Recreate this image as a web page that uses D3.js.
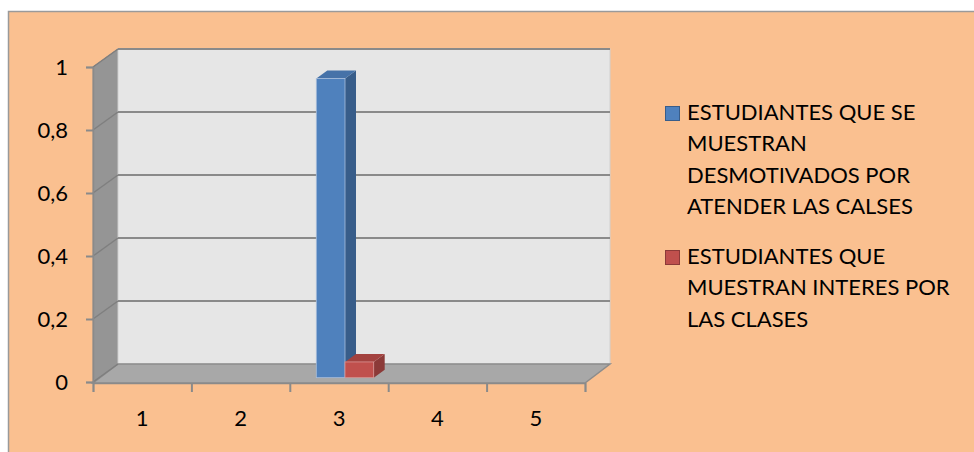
<!DOCTYPE html>
<html>
<head>
<meta charset="utf-8">
<script src="https://cdn.jsdelivr.net/npm/d3@7"></script>
<style>
  body { margin: 0; background: #fff; }
  svg { display: block; }
  .axis text { font-family: Lato, "Open Sans", sans-serif; font-size: 22px; fill: #000; }
</style>
</head>
<body>
<svg id="chart"></svg>
<script>
// data
var categories = ["1", "2", "3", "4", "5"];
var seriesNames = ["ESTUDIANTES QUE SE MUESTRAN DESMOTIVADOS POR ATENDER LAS CALSES",
                   "ESTUDIANTES QUE MUESTRAN INTERES POR LAS CLASES"];
var legendLines = [["ESTUDIANTES QUE SE", "MUESTRAN", "DESMOTIVADOS POR", "ATENDER LAS CALSES"],
                   ["ESTUDIANTES QUE", "MUESTRAN INTERES POR", "LAS CLASES"]];
var desmotivados = [0, 0, 0.95, 0, 0];
var interes = [0, 0, 0.05, 0, 0];
var yTicks = [0, 0.2, 0.4, 0.6, 0.8, 1];

var W = 974, H = 452;
var front = {left: 93, right: 585, top: 67, bottom: 382};
var depth = {dx: 25, dy: -18};   // wall depth in px
var barDepth = {from: 0.24, to: 0.68};

var colors = [
  {front: "#4f81bd", side: "#385d8a", top: "#4672a8", stroke: "#a9bedb"},
  {front: "#c0504d", side: "#8c3a38", top: "#a3423f", stroke: "#d99694"}
];

var svg = d3.select("#chart").attr("width", W).attr("height", H);

// frame
svg.append("rect")
  .attr("x", 8.5).attr("y", 11.5)
  .attr("width", W + 10).attr("height", H + 10)
  .attr("fill", "#fac090")
  .attr("stroke", "#9a9a9a")
  .attr("stroke-width", 1.5);

var y = d3.scaleLinear().domain([0, 1]).range([front.bottom, front.top]);
var x = d3.scaleBand().domain(categories).range([front.left, front.right]);
var xTick = d3.scaleLinear().domain([0, categories.length]).range([front.left, front.right]);
var x1 = d3.scaleBand().domain([0, 1]).range([20.5, x.bandwidth() - 20.5]);

var bx = front.left + depth.dx, by0 = front.bottom + depth.dy;

// left wall
svg.append("polygon")
  .attr("points", [[front.left, y(1)], [bx, y(1) + depth.dy], [bx, by0], [front.left, front.bottom + 1]].join(" "))
  .attr("fill", "#959595")
  .attr("stroke", "#8a8a8a");

// back wall
svg.append("rect")
  .attr("x", bx).attr("y", y(1) + depth.dy)
  .attr("width", front.right - front.left)
  .attr("height", by0 - (y(1) + depth.dy))
  .attr("fill", "#e6e6e6")
  .attr("stroke", "#d0d0d0");

// floor
svg.append("polygon")
  .attr("points", [[front.left, front.bottom + 1], [front.right, front.bottom + 1],
                   [front.right + depth.dx, by0], [bx, by0]].join(" "))
  .attr("fill", "#a8a8a8")
  .attr("stroke", "#8c8c8c")
  .attr("stroke-width", 1.5);

// gridlines on back wall + left wall
var grid = svg.append("g");
grid.selectAll("line.back").data(yTicks.filter(function(d) { return d > 0; }))
  .enter().append("line")
  .attr("x1", bx).attr("x2", front.right + depth.dx)
  .attr("y1", function(d) { return y(d) + depth.dy; })
  .attr("y2", function(d) { return y(d) + depth.dy; })
  .attr("stroke", "#8a8a8a").attr("stroke-width", 2);
grid.selectAll("line.side").data(yTicks)
  .enter().append("line")
  .attr("x1", front.left).attr("x2", bx)
  .attr("y1", function(d) { return y(d); })
  .attr("y2", function(d) { return y(d) + depth.dy; })
  .attr("stroke", "#7f7f7f").attr("stroke-width", 1.5);

// y axis
var yAxis = svg.append("g").attr("class", "axis")
  .attr("transform", "translate(" + front.left + ",0)")
  .call(d3.axisLeft(y).tickValues(yTicks).tickSize(7).tickPadding(18)
    .tickFormat(function(d) { return String(d).replace(".", ","); }));
yAxis.select(".domain").attr("stroke", "#8a8a8a").attr("stroke-width", 1.5);
yAxis.selectAll(".tick line").attr("stroke", "#8a8a8a").attr("stroke-width", 2);

// x axis: ticks between categories, labels centred
var xAxisTicks = svg.append("g")
  .attr("transform", "translate(0," + (front.bottom + 1) + ")")
  .call(d3.axisBottom(xTick).ticks(categories.length).tickSize(9).tickFormat(""));
xAxisTicks.select(".domain").attr("stroke", "#8a8a8a").attr("stroke-width", 1.5);
xAxisTicks.selectAll(".tick line").attr("stroke", "#8a8a8a").attr("stroke-width", 2);

var xAxis = svg.append("g").attr("class", "axis")
  .attr("transform", "translate(0," + (front.bottom + 1) + ")")
  .call(d3.axisBottom(x).tickSize(0).tickPadding(27));
xAxis.select(".domain").remove();

// 3d bars
function drawBar(g, cat, si, v, c) {
  if (v <= 0) return;
  var ox = depth.dx * barDepth.from, oy = depth.dy * barDepth.from;
  var dx = depth.dx * (barDepth.to - barDepth.from), dy = depth.dy * (barDepth.to - barDepth.from);
  var x0 = x(cat) + x1(si) + ox, w = x1.bandwidth();
  var yb = y(0) + oy, yt = y(v) + oy;
  g.append("polygon")
    .attr("points", [[x0 + w, yt], [x0 + w + dx, yt + dy], [x0 + w + dx, yb + dy], [x0 + w, yb]].join(" "))
    .attr("fill", c.side);
  g.append("polygon")
    .attr("points", [[x0, yt], [x0 + dx, yt + dy], [x0 + w + dx, yt + dy], [x0 + w, yt]].join(" "))
    .attr("fill", c.top);
  g.append("rect")
    .attr("x", x0).attr("y", yt).attr("width", w).attr("height", yb - yt)
    .attr("fill", c.front).attr("stroke", c.stroke).attr("stroke-width", 0.8);
}
var bars = svg.append("g");
[desmotivados, interes].forEach(function(series, si) {
  series.forEach(function(v, i) { drawBar(bars, categories[i], si, v, colors[si]); });
});

// legend
var legendTop = [106, 250];
var leg = svg.append("g");
seriesNames.forEach(function(name, si) {
  leg.append("rect")
    .attr("x", 665.5).attr("y", legendTop[si] + 0.5)
    .attr("width", 14).attr("height", 14)
    .attr("fill", colors[si].front)
    .attr("stroke", colors[si].side);
  var t = leg.append("text")
    .attr("font-family", "Lato, 'Open Sans', sans-serif")
    .attr("font-size", "22px")
    .attr("fill", "#000");
  legendLines[si].forEach(function(line, li) {
    t.append("tspan").attr("x", 687).attr("y", legendTop[si] + 14 + li * 31.3).text(line);
  });
});
</script>
</body>
</html>
